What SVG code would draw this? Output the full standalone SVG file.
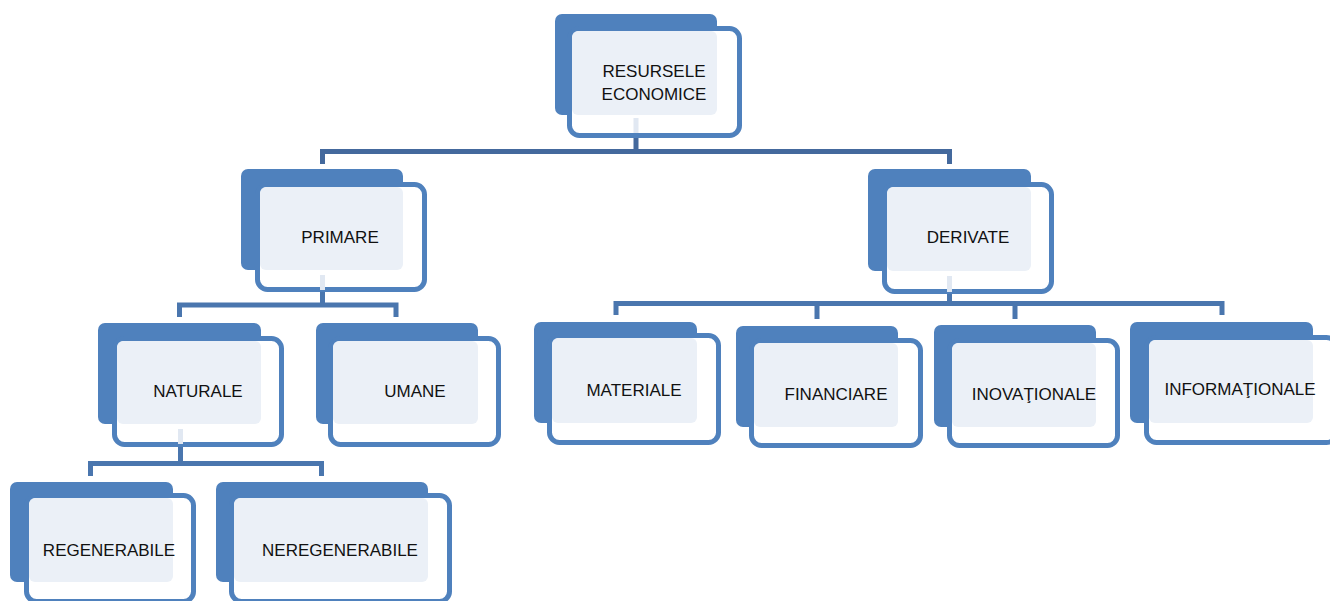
<svg xmlns="http://www.w3.org/2000/svg" width="1330" height="601" viewBox="0 0 1330 601">
<style>
.back{fill:#4F81BD}
.front{fill:#FFFFFF;stroke:#4F81BD;stroke-width:5}
.light{fill:#EBF0F7}
.faint{fill:#E1E8F2}
.lbl{font-family:"Liberation Sans",Arial,sans-serif;font-size:17px;fill:#111111;text-anchor:middle}
.c1{fill:none;stroke:#44699D;stroke-width:5;stroke-linejoin:miter}
.c2{fill:none;stroke:#4A76AE;stroke-width:5;stroke-linejoin:miter}
</style>
<rect width="1330" height="601" fill="#FFFFFF"/>
<g id="connectors">
<path class="c1" d="M636,136 V151.5 M322.5,164 V151.5 H949.5 V164"/>
<path class="c2" d="M322.5,292 V305 M179.5,317 V305 H396 V317"/>
<path class="c2" d="M180.5,447 V463.5 M90.5,476 V463.5 H321.5 V476"/>
<path class="c2" d="M949.5,294 V303.5 M616,315 V303.5 H1222 V315 M817,303.5 V319 M1015,303.5 V319"/>
</g>
<g id="node-resursele">
<rect class="back" x="555" y="14" width="162" height="101" rx="7"/>
<rect class="front" x="569.5" y="28.5" width="170" height="107" rx="10"/>
<rect class="light" x="572" y="31" width="145" height="84" rx="6"/>
<rect class="faint" x="633.5" y="118" width="5" height="15"/>
<text class="lbl" x="654" y="77">RESURSELE</text>
<text class="lbl" x="654" y="100">ECONOMICE</text>
</g>
<g id="node-primare">
<rect class="back" x="241" y="169" width="162" height="101" rx="7"/>
<rect class="front" x="257.5" y="184.5" width="167" height="105" rx="10"/>
<rect class="light" x="260" y="187" width="143" height="83" rx="6"/>
<rect class="faint" x="320" y="275" width="5" height="15"/>
<text class="lbl" x="340" y="243">PRIMARE</text>
</g>
<g id="node-derivate">
<rect class="back" x="868" y="169" width="163" height="102" rx="7"/>
<rect class="front" x="884.5" y="184.5" width="167" height="107" rx="10"/>
<rect class="light" x="887" y="187" width="144" height="84" rx="6"/>
<rect class="faint" x="947" y="276" width="5" height="16"/>
<text class="lbl" x="968" y="243">DERIVATE</text>
</g>
<g id="node-naturale">
<rect class="back" x="98" y="323" width="163" height="101" rx="7"/>
<rect class="front" x="114.5" y="338.5" width="167" height="106" rx="10"/>
<rect class="light" x="117" y="341" width="144" height="83" rx="6"/>
<rect class="faint" x="178" y="429" width="5" height="15"/>
<text class="lbl" x="198" y="397">NATURALE</text>
</g>
<g id="node-umane">
<rect class="back" x="316" y="323" width="162" height="101" rx="7"/>
<rect class="front" x="330.5" y="338.5" width="168" height="106" rx="10"/>
<rect class="light" x="333" y="341" width="145" height="83" rx="6"/>
<text class="lbl" x="415" y="397">UMANE</text>
</g>
<g id="node-regenerabile">
<rect class="back" x="10" y="482" width="163" height="100" rx="7"/>
<rect class="front" x="26.5" y="495.5" width="167" height="106" rx="10"/>
<rect class="light" x="29" y="498" width="144" height="84" rx="6"/>
<text class="lbl" x="109" y="556">REGENERABILE</text>
</g>
<g id="node-neregenerabile">
<rect class="back" x="216" y="482" width="212" height="100" rx="7"/>
<rect class="front" x="231.5" y="495.5" width="218" height="106" rx="10"/>
<rect class="light" x="234" y="498" width="194" height="84" rx="6"/>
<text class="lbl" x="340" y="556">NEREGENERABILE</text>
</g>
<g id="node-materiale">
<rect class="back" x="534" y="322" width="163" height="101" rx="7"/>
<rect class="front" x="549.5" y="335.5" width="169" height="107" rx="10"/>
<rect class="light" x="552" y="338" width="145" height="85" rx="6"/>
<text class="lbl" x="634" y="396">MATERIALE</text>
</g>
<g id="node-financiare">
<rect class="back" x="736" y="326" width="162" height="101" rx="7"/>
<rect class="front" x="751.5" y="340.5" width="169" height="105" rx="10"/>
<rect class="light" x="754" y="343" width="144" height="84" rx="6"/>
<text class="lbl" x="836" y="400">FINANCIARE</text>
</g>
<g id="node-inovationale">
<rect class="back" x="934" y="325" width="162" height="102" rx="7"/>
<rect class="front" x="949.5" y="340.5" width="168" height="105" rx="10"/>
<rect class="light" x="952" y="343" width="144" height="84" rx="6"/>
<text class="lbl" x="1034" y="400">INOVAŢIONALE</text>
</g>
<g id="node-informationale">
<rect class="back" x="1130" y="322" width="183" height="101" rx="7"/>
<rect class="front" x="1146.5" y="337.5" width="190" height="105" rx="10"/>
<rect class="light" x="1149" y="340" width="164" height="83" rx="6"/>
<text class="lbl" x="1240" y="395">INFORMAŢIONALE</text>
</g>
</svg>
